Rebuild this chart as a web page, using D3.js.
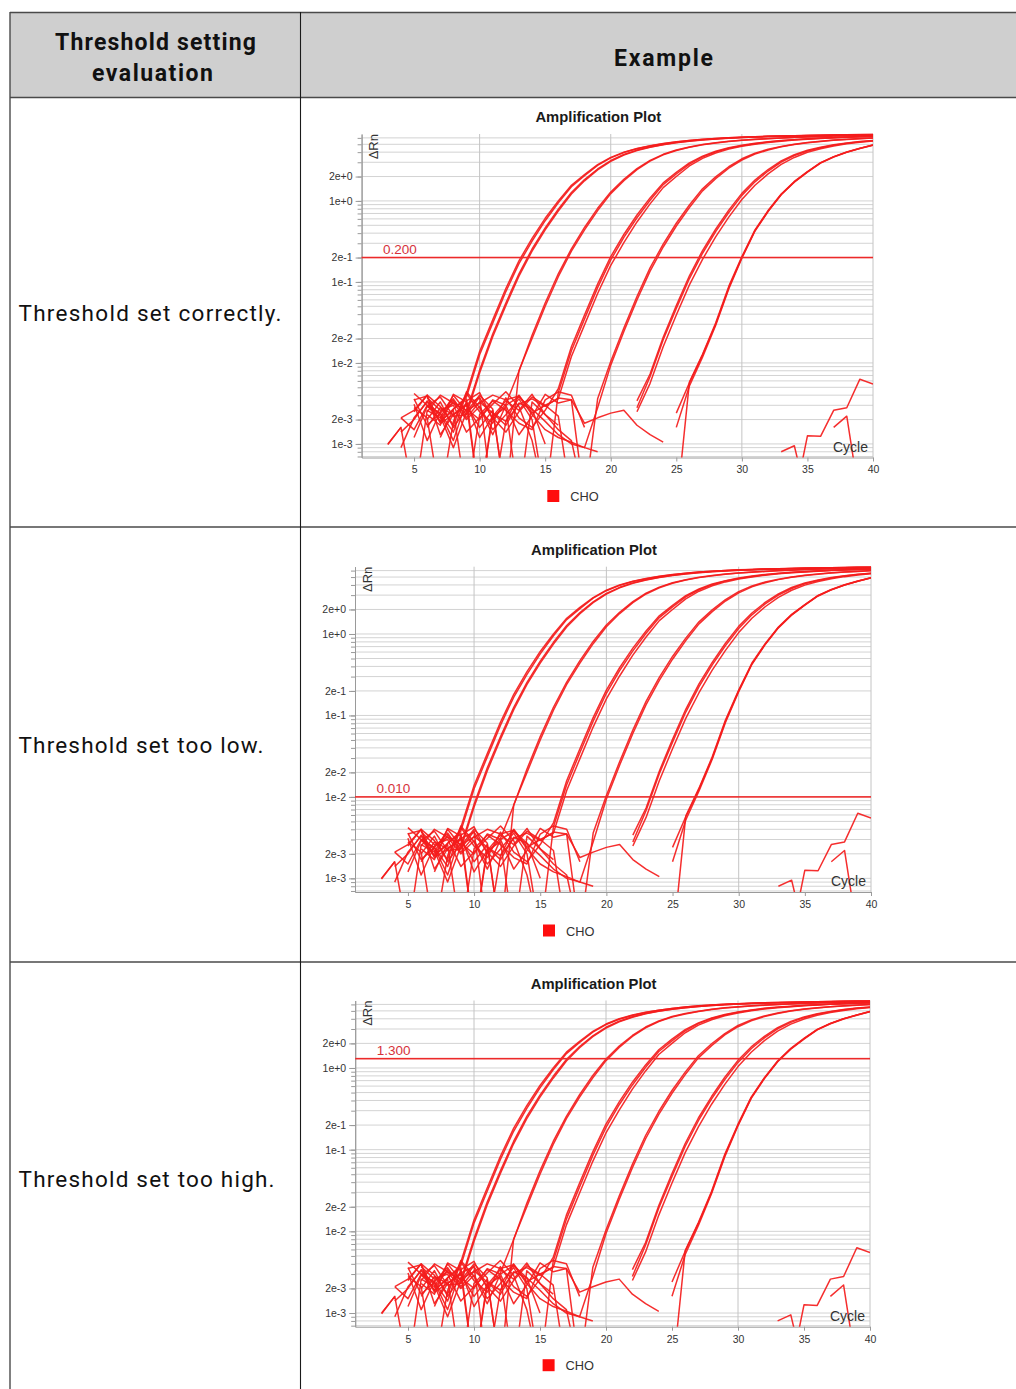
<!DOCTYPE html>
<html>
<head>
<meta charset="utf-8">
<script src="https://cdn.jsdelivr.net/npm/d3@7"></script>
<style>
  html, body { margin: 0; padding: 0; background: #fff; }
  svg { display: block; }
</style>
</head>
<body>
<svg id="page" width="1016" height="1389"></svg>
<script>
// ---------------------------------------------------------------
// Data: ΔRn per cycle (cycles 1..40) for every well, null = no value
// ---------------------------------------------------------------
const cycles = d3.range(1, 41);

// Standard, first dilution (Ct ~13.3)
const g1a = [null, null, null, 0.0009, 0.0021, 0.0033, 0.0019, 0.0027, 0.0038, 0.0126,
             0.031, 0.076, 0.168, 0.32, 0.57, 0.95, 1.5, 2.05, 2.75, 3.4,
             3.95, 4.4, 4.78, 5.08, 5.35, 5.57, 5.75, 5.9, 6.02, 6.12,
             6.2, 6.27, 6.33, 6.38, 6.43, 6.47, 6.51, 6.55, 6.58, 6.61];
const g1b = [null, null, null, null, 0.0036, 0.0017, 0.0024, 0.0014, 0.0042, 0.0138,
             0.034, 0.083, 0.182, 0.345, 0.61, 1.0, 1.56, 2.12, 2.8, 3.45,
             4.0, 4.44, 4.8, 5.1, 5.36, 5.58, 5.76, 5.91, 6.03, 6.13,
             6.21, 6.28, 6.34, 6.39, 6.44, 6.48, 6.52, 6.56, 6.59, 6.62];
const g1c = [null, null, 0.0010, 0.0016, 0.0002, 0.0026, 0.0021, 0.0040, 0.0025, 0.0081,
             0.0228, 0.055, 0.126, 0.255, 0.465, 0.79, 1.27, 1.83, 2.48, 3.15,
             3.74, 4.24, 4.64, 4.97, 5.25, 5.48, 5.67, 5.83, 5.96, 6.07,
             6.16, 6.23, 6.29, 6.35, 6.4, 6.44, 6.48, 6.52, 6.55, 6.58];
const g1d = [null, null, null, null, 0.0012, 0.0029, 0.0038, 0.0022, 0.0023, 0.0075,
             0.021, 0.051, 0.118, 0.24, 0.44, 0.75, 1.22, 1.77, 2.42, 3.08,
             3.68, 4.18, 4.6, 4.94, 5.22, 5.45, 5.64, 5.8, 5.94, 6.05,
             6.14, 6.22, 6.28, 6.34, 6.39, 6.43, 6.47, 6.51, 6.54, 6.57];

// Second dilution (Ct ~16.7)
const g2a = [null, null, null, 0.0021, 0.0015, 0.0030, 0.0024, 0.0011, 0.0034, 0.0043,
             0.0020, 0.0031, 0.0079, 0.022, 0.055, 0.126, 0.256, 0.47, 0.81, 1.29,
             1.85, 2.5, 3.17, 3.76, 4.26, 4.64, 4.96, 5.23, 5.45, 5.62,
             5.76, 5.89, 6.0, 6.1, 6.18, 6.26, 6.33, 6.39, 6.44, 6.49];
const g2b = [null, null, null, null, 0.0025, 0.0040, 0.0013, 0.0023, 0.0030, 0.0016,
             0.0026, 0.0002, 0.0080, 0.020, 0.050, 0.116, 0.24, 0.44, 0.76, 1.23,
             1.78, 2.43, 3.1, 3.7, 4.2, 4.59, 4.92, 5.19, 5.42, 5.59,
             5.73, 5.86, 5.98, 6.08, 6.17, 6.25, 6.32, 6.38, 6.43, 6.48];

// Third dilution (Ct ~20.2)
const g3a = [null, null, null, null, 0.0028, 0.0021, 0.0002, 0.0019, 0.0042, 0.0025,
             0.0018, 0.0037, 0.0021, 0.0016, 0.0026, 0.0048, 0.0158, 0.039, 0.094, 0.205,
             0.385, 0.67, 1.09, 1.67, 2.25, 2.95, 3.57, 4.1, 4.52, 4.86,
             5.14, 5.38, 5.56, 5.71, 5.84, 5.96, 6.06, 6.15, 6.23, 6.3];
const g3b = [null, null, null, null, null, 0.0037, 0.0026, 0.0030, 0.0014, 0.0021,
             0.0031, 0.0044, 0.0029, 0.0011, 0.0002, 0.0043, 0.0141, 0.035, 0.085, 0.187,
             0.355, 0.62, 1.02, 1.59, 2.15, 2.85, 3.49, 4.03, 4.46, 4.8,
             5.09, 5.33, 5.52, 5.67, 5.81, 5.93, 6.04, 6.13, 6.21, 6.28];
const g3c = [null, null, null, null, null, null, 0.0020, 0.0034, 0.0023, 0.0038,
             0.0002, 0.0019, 0.0040, 0.0024, 0.0030, 0.0036, 0.012, 0.0295, 0.072, 0.16,
             0.305, 0.55, 0.92, 1.46, 2.0, 2.7, 3.35, 3.9, 4.36, 4.72,
             5.02, 5.27, 5.47, 5.63, 5.77, 5.9, 6.01, 6.1, 6.18, 6.25];

// Fourth dilution (Ct ~23.5)
const g4a = [null, null, null, null, null, 0.0020, 0.0033, 0.0016, 0.0027, 0.0020,
             0.0035, 0.0030, 0.0013, 0.0022, 0.0041, 0.0032, 0.0035, 0.0002, 0.0036, 0.0104,
             0.027, 0.066, 0.149, 0.293, 0.53, 0.89, 1.41, 1.98, 2.64, 3.31,
             3.88, 4.34, 4.71, 5.01, 5.27, 5.47, 5.63, 5.78, 5.9, 6.0];
const g4b = [null, null, null, null, null, null, 0.0012, 0.0027, 0.0036, 0.0002,
             0.0024, 0.0017, 0.0032, 0.0027, 0.0019, 0.0013, 0.0010, 0.0009, 0.0028, 0.0094,
             0.0245, 0.060, 0.136, 0.27, 0.49, 0.83, 1.33, 1.88, 2.54, 3.2,
             3.79, 4.26, 4.65, 4.97, 5.23, 5.43, 5.6, 5.75, 5.87, 5.97];

// Fifth dilution (Ct ~26.9)
const g5a = [null, null, null, null, 0.0031, 0.0011, 0.0025, 0.0032, 0.0020, 0.0029,
             0.0015, 0.0023, 0.0036, 0.0020, 0.0002, null, null, null, null, null,
             null, 0.0034, 0.0073, 0.0207, 0.051, 0.119, 0.244, 0.447, 0.77, 1.24,
             1.81, 2.44, 3.11, 3.72, 4.22, 4.61, 4.93, 5.2, 5.42, 5.58];
const g5b = [null, null, null, null, null, 0.0023, 0.0017, 0.0041, 0.0033, 0.0012,
             0.0022, 0.0028, 0.0002, 0.0033, 0.0023, 0.0017, null, null, null, null,
             null, 0.0028, 0.0068, 0.0193, 0.047, 0.11, 0.226, 0.418, 0.72, 1.17,
             1.72, 2.34, 3.01, 3.62, 4.13, 4.54, 4.87, 5.15, 5.38, 5.55];
const g5c = [null, null, null, 0.0014, 0.0020, 0.0034, 0.0022, 0.0009, 0.0025, 0.0040,
             0.0027, 0.0002, null, null, null, null, null, null, null, null,
             null, 0.0025, 0.0056, 0.0158, 0.039, 0.092, 0.19, 0.36, 0.63, 1.04,
             1.56, 2.16, 2.82, 3.44, 3.98, 4.41, 4.77, 5.06, 5.3, 5.49];

// Sixth dilution (Ct ~30.0)
const g6a = [null, null, null, null, null, 0.0016, 0.0028, 0.0023, 0.0031, 0.0037,
             0.0021, 0.0014, 0.0025, 0.0038, 0.0030, 0.0022, 0.0002, null, null, null,
             null, null, null, null, 0.0024, 0.0057, 0.0125, 0.030, 0.085, 0.2,
             0.43, 0.75, 1.2, 1.72, 2.28, 2.95, 3.5, 4.0, 4.45, 4.9];
const g6b = [null, null, null, null, 0.0042, 0.0030, 0.0019, 0.0026, 0.0002, 0.0023,
             0.0034, 0.0026, 0.0018, 0.0015, 0.0035, 0.0044, 0.0040, 0.0016, null, null,
             null, null, null, null, 0.0016, 0.0052, 0.0118, 0.029, 0.082, 0.196,
             0.425, 0.74, 1.19, 1.7, 2.26, 2.93, 3.48, 3.98, 4.43, 4.88];
const g6c = [null, null, null, null, null, 0.0025, 0.0040, 0.0032, 0.0026, 0.0032,
             0.0040, 0.0035, 0.0039, 0.0023, 0.0015, 0.0012, 0.00105, 0.0009, 0.0008, null,
             null, null, null, null, 0.00015, 0.0058, 0.0128, 0.031, 0.088, 0.205,
             0.44, 0.76, 1.22, 1.74, 2.3, 2.97, 3.52, 4.02, 4.47, 4.92];

// No-template controls
const ntc1 = [null, null, 0.00098, 0.0016, null, 0.0029, 0.0024, 0.0036, 0.0021, 0.0033,
              0.0024, 0.0019, 0.0031, 0.0036, 0.0029, 0.0037, 0.0035, 0.0018, 0.0021, 0.0024,
              0.0026, 0.0017, 0.0013, 0.00105, null, null, null, null, null, null,
              null, null, 0.0008, 0.00095, 0.0002, null, null, null, null, null];
const ntc2 = [null, null, null, 0.0021, 0.0026, 0.0040, 0.0029, 0.0017, 0.0044, 0.0028,
              0.0013, 0.0030, 0.0038, 0.0027, 0.0010, null, null, null, null, null,
              null, null, null, null, null, null, null, null, null, null,
              null, null, null, 0.0002, 0.00126, 0.00124, 0.0026, 0.0028, 0.0063, 0.0055];
const ntc3 = [null, null, null, null, 0.0035, 0.0039, 0.0018, 0.0023, 0.0031, 0.0002,
              0.0022, 0.0034, 0.0026, 0.0041, 0.0023, 0.0015, 0.0011, 0.0002, null, null,
              null, null, null, null, null, null, null, null, null, null,
              null, null, null, null, null, null, 0.0016, 0.0022, 0.0002, null];

const wells = [g1a, g1b, g1c, g1d, g2a, g2b, g3a, g3b, g3c,
               g4a, g4b, g5a, g5b, g5c, g6a, g6b, g6c, ntc1, ntc2, ntc3];

// Table text and per-row threshold settings
const headerLeft = ["Threshold setting", "evaluation"];
const headerRight = "Example";
const rowLabels = ["Threshold set correctly.", "Threshold set too low.", "Threshold set too high."];
const thresholds = [0.200, 0.010, 1.300];
const legendLabel = "CHO";
const plotTitle = "Amplification Plot";

// Axis ticks
const xTickValues = [5, 10, 15, 20, 25, 30, 35, 40];
const xGridValues = [10, 20, 30, 40];
const yLabelValues = [2, 1, 0.2, 0.1, 0.02, 0.01, 0.002, 0.001];
const yDomain = [6.8e-4, 6.7];

// ---------------------------------------------------------------
// Page layout
// ---------------------------------------------------------------
const svg = d3.select("#page");
const W = 1016;
const tableFont = "Roboto, 'Noto Sans', sans-serif";
const plotFont = "'Liberation Sans', Arial, sans-serif";

// header background
svg.append("rect").attr("x", 10).attr("y", 12.5).attr("width", W).attr("height", 85)
  .attr("fill", "#cfcfcf");

// horizontal rules
const rules = [12.5, 97.5, 527, 962];
svg.selectAll("line.rule").data(rules).join("line")
  .attr("class", "rule")
  .attr("x1", 10).attr("x2", W + 2)
  .attr("y1", d => d).attr("y2", d => d)
  .attr("stroke", "#4a4a4a").attr("stroke-width", 1.4);
// left border and column divider
svg.append("line").attr("class", "border").attr("x1", 10).attr("x2", 10).attr("y1", 12).attr("y2", 1400)
  .attr("stroke", "#4a4a4a").attr("stroke-width", 1.4);
svg.append("line").attr("class", "border").attr("x1", 300.5).attr("x2", 300.5).attr("y1", 12).attr("y2", 1400)
  .attr("stroke", "#1a1a1a").attr("stroke-width", 1.1);

// header text
const headTxt = [
  {t: headerLeft[0], x: 155.5, y: 50, w: 201},
  {t: headerLeft[1], x: 152.5, y: 81, w: 121},
  {t: headerRight, x: 663.5, y: 66, w: 99}
];
svg.selectAll("text.head").data(headTxt).join("text")
  .attr("class", "head")
  .attr("x", d => d.x).attr("y", d => d.y)
  .attr("text-anchor", "middle")
  .attr("font-family", tableFont).attr("font-weight", 700).attr("font-size", 23)
  .attr("fill", "#111")
  .attr("textLength", d => d.w)
  .text(d => d.t);

// row labels
const rowTxt = [
  {t: rowLabels[0], y: 321, w: 263},
  {t: rowLabels[1], y: 753, w: 245},
  {t: rowLabels[2], y: 1187, w: 256}
];
svg.selectAll("text.rowlab").data(rowTxt).join("text")
  .attr("class", "rowlab")
  .attr("x", 18.5).attr("y", d => d.y)
  .attr("font-family", tableFont).attr("font-size", 22.5)
  .attr("fill", "#111")
  .attr("textLength", d => d.w)
  .text(d => d.t);

// ---------------------------------------------------------------
// Amplification plots
// ---------------------------------------------------------------
const plotBoxes = [
  {left: 361.6, right: 873, top: 134, bottom: 457.5},
  {left: 355, right: 871, top: 566.7, bottom: 892},
  {left: 355.2, right: 870, top: 1000.5, bottom: 1326.7}
];

// every 1..9 x 10^k value inside the y domain (gridlines / minor ticks)
const minorValues = [];
for (let e = -4; e <= 1; e++) {
  for (let m = 1; m <= 9; m++) {
    const v = +(m * Math.pow(10, e)).toPrecision(3);
    if (v >= yDomain[0] && v <= yDomain[1]) minorValues.push(v);
  }
}

function drawPlot(box, threshold, idx) {
  const g = svg.append("g").attr("class", "plot");
  const x = d3.scaleLinear().domain([1, 40]).range([box.left, box.right]);
  const y = d3.scaleLog().domain(yDomain).range([box.bottom, box.top]);

  // horizontal gridlines (the one under the threshold is left out)
  g.append("g").attr("class", "hgrid").selectAll("line")
    .data(minorValues.filter(v => Math.abs(v - threshold) > 1e-9)).join("line")
    .attr("x1", box.left).attr("x2", box.right)
    .attr("y1", d => y(d)).attr("y2", d => y(d))
    .attr("stroke", "#d3d3d3").attr("stroke-width", 1);
  // vertical gridlines
  g.append("g").attr("class", "vgrid").selectAll("line").data(xGridValues).join("line")
    .attr("x1", d => x(d)).attr("x2", d => x(d))
    .attr("y1", box.top).attr("y2", box.bottom)
    .attr("stroke", "#c4c4c4").attr("stroke-width", 1);

  // y axis: minor ticks, then labelled ticks
  const yMinor = g.append("g").attr("transform", `translate(${box.left},0)`)
    .call(d3.axisLeft(y).tickValues(minorValues).tickSize(4).tickSizeOuter(0).tickFormat(""));
  const yMajor = g.append("g").attr("transform", `translate(${box.left},0)`)
    .call(d3.axisLeft(y).tickValues(yLabelValues).tickSize(6).tickSizeOuter(0)
      .tickPadding(3).tickFormat(d3.format(".0e")));
  [yMinor, yMajor].forEach(a => {
    a.select(".domain").attr("stroke", "#9a9a9a");
    a.selectAll(".tick line").attr("stroke", "#9a9a9a");
    a.selectAll("text").attr("font-family", plotFont).attr("font-size", 10.5).attr("fill", "#333");
  });

  // x axis
  const xAxis = g.append("g").attr("transform", `translate(0,${box.bottom})`)
    .call(d3.axisBottom(x).tickValues(xTickValues).tickSize(4).tickSizeOuter(0).tickPadding(4.5));
  xAxis.select(".domain").attr("stroke", "#9a9a9a");
  xAxis.selectAll(".tick line").attr("stroke", "#9a9a9a");
  xAxis.selectAll("text").attr("font-family", plotFont).attr("font-size", 10.5).attr("fill", "#333");

  // clip for curves
  const clipId = "clip" + idx;
  svg.append("clipPath").attr("id", clipId).append("rect")
    .attr("x", box.left).attr("y", box.top - 3)
    .attr("width", box.right - box.left).attr("height", box.bottom - box.top + 3);

  // amplification curves
  const line = d3.line()
    .defined(d => d[1] != null)
    .x(d => x(d[0]))
    .y(d => y(d[1]));
  g.append("g").attr("clip-path", `url(#${clipId})`)
    .selectAll("path").data(wells).join("path")
    .attr("d", w => line(cycles.map((c, i) => [c, w[i]])))
    .attr("fill", "none")
    .attr("stroke", "#f41c1c")
    .attr("stroke-width", 1.5)
    .attr("stroke-linejoin", "round")
    .attr("stroke-opacity", 0.92);

  // threshold line
  const ty = y(threshold);
  g.append("rect")
    .attr("class", "threshold")
    .attr("x", box.left).attr("y", ty - 0.8)
    .attr("width", box.right - box.left).attr("height", 1.6)
    .attr("fill", "#ec2a2a");

  // threshold value label
  g.append("text")
    .attr("x", box.left + 21.5).attr("y", ty - 3.5)
    .attr("font-family", plotFont).attr("font-size", 13.5)
    .attr("fill", "#d6323b")
    .text(d3.format(".3f")(threshold));

  // axis titles
  g.append("text")
    .attr("transform", `translate(${box.left + 16.5},${box.top}) rotate(-90)`)
    .attr("text-anchor", "end")
    .attr("font-family", plotFont).attr("font-size", 13)
    .attr("fill", "#333")
    .text("ΔRn");
  g.append("text")
    .attr("x", box.right - 5).attr("y", box.bottom - 6)
    .attr("text-anchor", "end")
    .attr("font-family", plotFont).attr("font-size", 14)
    .attr("fill", "#333")
    .text("Cycle");

  // title
  const tx = (box.left - 38 + box.right) / 2;
  g.append("text")
    .attr("x", tx).attr("y", box.top - 12)
    .attr("text-anchor", "middle")
    .attr("font-family", plotFont).attr("font-weight", 700).attr("font-size", 14.8)
    .attr("fill", "#1a1a1a")
    .text(plotTitle);

  // legend
  const ly = box.bottom + 32.5;
  g.append("rect")
    .attr("x", tx - 51).attr("y", ly).attr("width", 12).attr("height", 12)
    .attr("fill", "#ff0d0d");
  g.append("text")
    .attr("x", tx - 28).attr("y", ly + 11)
    .attr("font-family", plotFont).attr("font-size", 12.8)
    .attr("fill", "#333")
    .text(legendLabel);
}

plotBoxes.forEach((b, i) => drawPlot(b, thresholds[i], i));
</script>
</body>
</html>
